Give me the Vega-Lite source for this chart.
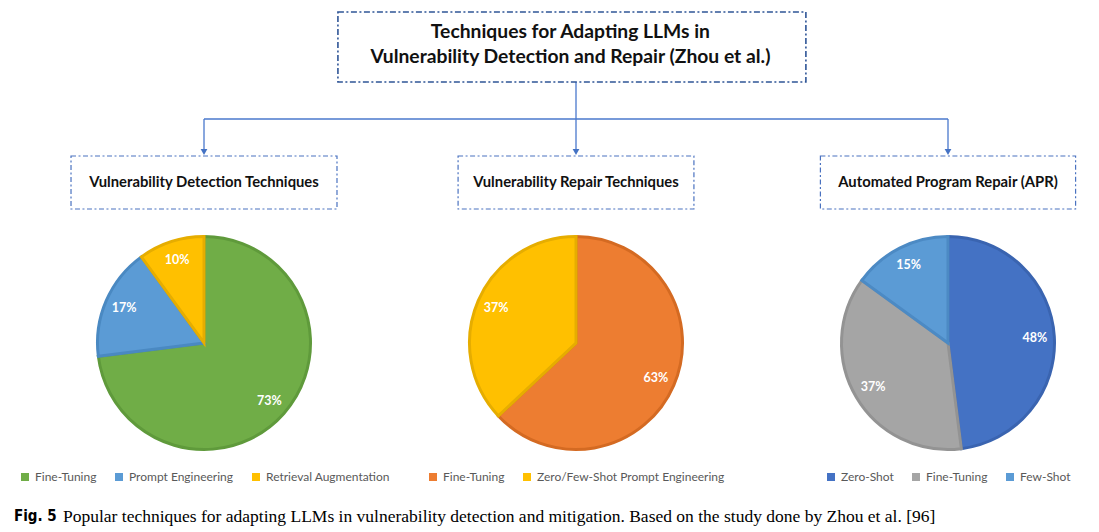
{
  "$schema": "https://vega.github.io/schema/vega-lite/v6.json",
  "background": "white",
  "padding": 0,
  "datasets": {
    "pies": [
      {"chart": "detect", "technique": "Fine-Tuning", "share": 0.73, "idx": 1},
      {"chart": "detect", "technique": "Prompt Engineering", "share": 0.17, "idx": 2},
      {"chart": "detect", "technique": "Retrieval Augmentation", "share": 0.10, "idx": 3},
      {"chart": "repair", "technique": "Fine-Tuning", "share": 0.63, "idx": 1},
      {"chart": "repair", "technique": "Zero/Few-Shot Prompt Engineering", "share": 0.37, "idx": 2},
      {"chart": "apr", "technique": "Zero-Shot", "share": 0.48, "idx": 1},
      {"chart": "apr", "technique": "Fine-Tuning", "share": 0.37, "idx": 2},
      {"chart": "apr", "technique": "Few-Shot", "share": 0.15, "idx": 3}
    ],
    "links": [
      {"link": "root-down", "c1": 1, "c2": 1, "t1": 82, "t2": 150},
      {"link": "bus", "c1": 0, "c2": 2, "t1": 119, "t2": 119},
      {"link": "to-detect", "c1": 0, "c2": 0, "t1": 119, "t2": 150},
      {"link": "to-apr", "c1": 2, "c2": 2, "t1": 119, "t2": 150}
    ],
    "arrows": [
      {"target": "detect", "col": 0, "tier": 152},
      {"target": "repair", "col": 1, "tier": 152},
      {"target": "apr", "col": 2, "tier": 152}
    ],
    "rootBox": [
      {"label": ["Techniques for Adapting LLMs in", "Vulnerability Detection and Repair (Zhou et al.)"], "col": 0.985, "left": 0.36, "right": 1.618, "top": 12, "bottom": 82, "mid": 32}
    ],
    "subBoxes": [
      {"label": "Vulnerability Detection Techniques", "col": 0, "left": -0.3575, "right": 0.3575, "top": 156, "bottom": 209, "mid": 182.5},
      {"label": "Vulnerability Repair Techniques", "col": 1, "left": 0.683, "right": 1.317, "top": 156, "bottom": 209, "mid": 182.5},
      {"label": "Automated Program Repair (APR)", "col": 2, "left": 1.657, "right": 2.343, "top": 156, "bottom": 209, "mid": 182.5}
    ]
  },
  "spacing": 0,
  "resolve": {"scale": {"color": "independent", "stroke": "independent", "theta": "independent"}},
  "vconcat": [
    {
      "width": 1092,
      "height": 225,
      "view": {"stroke": null},
      "layer": [
        {
          "data": {"name": "links"},
          "mark": {"type": "rule", "color": "#4A78CC", "strokeWidth": 1.3},
          "encoding": {
            "x": {"field": "c1", "type": "quantitative", "scale": {"domain": [-0.5484, 2.3871], "nice": false, "zero": false}, "axis": null},
            "x2": {"field": "c2"},
            "y": {"field": "t1", "type": "quantitative", "scale": {"domain": [0, 225], "nice": false, "zero": false, "reverse": true}, "axis": null},
            "y2": {"field": "t2"}
          }
        },
        {
          "data": {"name": "arrows"},
          "mark": {"type": "point", "shape": "triangle-down", "filled": true, "size": 45, "color": "#4472C4", "opacity": 1},
          "encoding": {
            "x": {"field": "col", "type": "quantitative", "scale": {"domain": [-0.5484, 2.3871], "nice": false, "zero": false}, "axis": null},
            "y": {"field": "tier", "type": "quantitative", "scale": {"domain": [0, 225], "nice": false, "zero": false, "reverse": true}, "axis": null}
          }
        },
        {
          "data": {"name": "rootBox"},
          "mark": {"type": "rect", "fill": "white", "stroke": "#2F5597", "strokeWidth": 1.6, "strokeDash": [6, 2.5, 2, 2.5]},
          "encoding": {
            "x": {"field": "left", "type": "quantitative", "scale": {"domain": [-0.5484, 2.3871], "nice": false, "zero": false}, "axis": null},
            "x2": {"field": "right"},
            "y": {"field": "top", "type": "quantitative", "scale": {"domain": [0, 225], "nice": false, "zero": false, "reverse": true}, "axis": null},
            "y2": {"field": "bottom"}
          }
        },
        {
          "data": {"name": "subBoxes"},
          "mark": {"type": "rect", "fill": "white", "stroke": "#4A72C0", "strokeWidth": 1.2, "strokeDash": [5, 2.5, 2, 2.5]},
          "encoding": {
            "x": {"field": "left", "type": "quantitative", "scale": {"domain": [-0.5484, 2.3871], "nice": false, "zero": false}, "axis": null},
            "x2": {"field": "right"},
            "y": {"field": "top", "type": "quantitative", "scale": {"domain": [0, 225], "nice": false, "zero": false, "reverse": true}, "axis": null},
            "y2": {"field": "bottom"}
          }
        },
        {
          "data": {"name": "rootBox"},
          "mark": {"type": "text", "font": "Lato", "fontWeight": "bold", "fontSize": 19.3, "lineHeight": 25, "color": "#111111", "baseline": "middle", "align": "center"},
          "encoding": {
            "x": {"field": "col", "type": "quantitative", "scale": {"domain": [-0.5484, 2.3871], "nice": false, "zero": false}, "axis": null},
            "y": {"field": "mid", "type": "quantitative", "scale": {"domain": [0, 225], "nice": false, "zero": false, "reverse": true}, "axis": null},
            "text": {"field": "label"}
          }
        },
        {
          "data": {"name": "subBoxes"},
          "mark": {"type": "text", "font": "Lato", "fontWeight": "bold", "fontSize": 14.8, "color": "#111111", "baseline": "middle", "align": "center"},
          "encoding": {
            "x": {"field": "col", "type": "quantitative", "scale": {"domain": [-0.5484, 2.3871], "nice": false, "zero": false}, "axis": null},
            "y": {"field": "mid", "type": "quantitative", "scale": {"domain": [0, 225], "nice": false, "zero": false, "reverse": true}, "axis": null},
            "text": {"field": "label"}
          }
        }
      ]
    },
    {
      "spacing": 60,
      "resolve": {"scale": {"color": "independent", "stroke": "independent", "theta": "independent"}},
      "title": {
        "text": "Fig. 5",
        "orient": "bottom",
        "anchor": "start",
        "frame": "group",
        "dx": 14,
        "offset": 26,
        "font": "DejaVu Sans Condensed",
        "fontWeight": "bold",
        "fontSize": 15,
        "color": "black"
      },
      "hconcat": [
        {
          "spacing": 0,
          "resolve": {"scale": {"color": "independent", "stroke": "independent", "theta": "independent"}},
          "hconcat": [
            {
              "width": 408,
              "height": 236,
              "view": {"stroke": null},
              "data": {"name": "pies"},
              "transform": [{"filter": "datum.chart === 'detect'"}],
              "encoding": {
                "theta": {"field": "share", "type": "quantitative", "stack": true},
                "order": {"field": "idx", "type": "quantitative"}
              },
              "layer": [
                {
                  "mark": {"type": "arc", "outerRadius": 106.5, "strokeWidth": 3},
                  "encoding": {
                    "color": {"field": "technique", "type": "nominal", "scale": {"domain": ["Fine-Tuning", "Prompt Engineering", "Retrieval Augmentation"], "range": ["#70AD47", "#5B9BD5", "#FFC000"]}, "legend": {"title": null}},
                    "stroke": {"field": "technique", "type": "nominal", "scale": {"domain": ["Fine-Tuning", "Prompt Engineering", "Retrieval Augmentation"], "range": ["#5F9A3B", "#4A89C2", "#E6AD00"]}, "legend": null}
                  }
                },
                {
                  "mark": {"type": "text", "radius": 87, "fill": "white", "font": "Lato", "fontWeight": "bold", "fontSize": 12.5},
                  "encoding": {"text": {"field": "share", "type": "quantitative", "format": ".0%"}}
                }
              ]
            },
            {
              "width": 336,
              "height": 236,
              "view": {"stroke": null},
              "data": {"name": "pies"},
              "transform": [{"filter": "datum.chart === 'repair'"}],
              "encoding": {
                "theta": {"field": "share", "type": "quantitative", "stack": true},
                "order": {"field": "idx", "type": "quantitative"}
              },
              "layer": [
                {
                  "mark": {"type": "arc", "outerRadius": 106.5, "strokeWidth": 3},
                  "encoding": {
                    "color": {"field": "technique", "type": "nominal", "scale": {"domain": ["Fine-Tuning", "Zero/Few-Shot Prompt Engineering"], "range": ["#ED7D31", "#FFC000"]}, "legend": {"title": null}},
                    "stroke": {"field": "technique", "type": "nominal", "scale": {"domain": ["Fine-Tuning", "Zero/Few-Shot Prompt Engineering"], "range": ["#D46A22", "#E6AD00"]}, "legend": null}
                  }
                },
                {
                  "mark": {"type": "text", "radius": 87, "fill": "white", "font": "Lato", "fontWeight": "bold", "fontSize": 12.5},
                  "encoding": {"text": {"field": "share", "type": "quantitative", "format": ".0%"}}
                }
              ]
            }
          ]
        },
        {
          "width": 288,
          "height": 236,
          "view": {"stroke": null},
          "data": {"name": "pies"},
          "transform": [{"filter": "datum.chart === 'apr'"}],
          "encoding": {
            "theta": {"field": "share", "type": "quantitative", "stack": true},
            "order": {"field": "idx", "type": "quantitative"}
          },
          "layer": [
            {
              "mark": {"type": "arc", "outerRadius": 106.5, "strokeWidth": 3},
              "encoding": {
                "color": {"field": "technique", "type": "nominal", "scale": {"domain": ["Zero-Shot", "Fine-Tuning", "Few-Shot"], "range": ["#4472C4", "#A5A5A5", "#5B9BD5"]}, "legend": {"title": null}},
                "stroke": {"field": "technique", "type": "nominal", "scale": {"domain": ["Zero-Shot", "Fine-Tuning", "Few-Shot"], "range": ["#3A64B0", "#939393", "#4C8AC4"]}, "legend": null}
              }
            },
            {
              "mark": {"type": "text", "radius": 87, "fill": "white", "font": "Lato", "fontWeight": "bold", "fontSize": 12.5},
              "encoding": {"text": {"field": "share", "type": "quantitative", "format": ".0%"}}
            }
          ]
        }
      ]
    }
  ],
  "title": {
    "text": "Popular techniques for adapting LLMs in vulnerability detection and mitigation. Based on the study done by Zhou et al. [96]",
    "orient": "bottom",
    "anchor": "start",
    "frame": "group",
    "dx": 63,
    "offset": -16,
    "font": "Liberation Serif",
    "fontWeight": "normal",
    "fontSize": 17.5,
    "color": "black"
  },
  "config": {
    "font": "Lato",
    "view": {"stroke": null},
    "legend": {
      "orient": "bottom",
      "direction": "horizontal",
      "offset": 10,
      "padding": 0,
      "symbolType": "square",
      "symbolSize": 64,
      "symbolStrokeWidth": 0,
      "labelFont": "Lato",
      "labelFontSize": 12,
      "labelColor": "#595959",
      "labelOffset": 4,
      "labelLimit": 400,
      "columnPadding": 16,
      "layout": {"bottom": {"anchor": "middle"}}
    }
  }
}
